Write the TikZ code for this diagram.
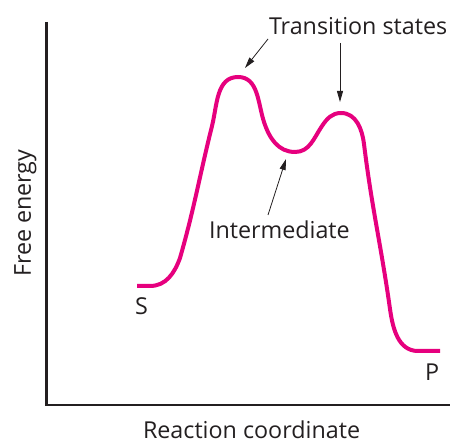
\documentclass[tikz,border=0pt]{standalone}
\usepackage{fontspec}
\setmainfont{Open Sans}
\usetikzlibrary{arrows.meta}
\definecolor{curvepink}{RGB}{230,0,126}
\definecolor{ink}{RGB}{35,31,32}
\tikzset{
  lbl/.style={inner sep=0pt, outer sep=0pt, anchor=base west, text=ink, font=\fontsize{23.3}{27}\selectfont},
  axis/.style={draw=ink, line width=2.4pt},
  energy/.style={draw=curvepink, line width=4pt},
  pointer/.style={draw=ink, line width=0.8pt, -{Triangle[length=11pt,width=6pt]}}
}
\begin{document}
\begin{tikzpicture}[x=1pt,y=1pt]
\useasboundingbox (0,0) rectangle (450,444);
% axes
\coordinate (ytop) at (46.5,422);
\coordinate (origin) at (46.5,39);
\coordinate (xend) at (450,39);
\draw[axis] (ytop) -- (origin) -- (xend);
% curve
\draw[energy] (137,158) -- (150,158)
  to[out=0,in=-110] (180,186)
  to[out=74,in=-104] (212,318)
  to[out=76,in=180] (238,367)
  to[out=0,in=108] (264,322)
  to[out=-72,in=180] (295,292)
  to[out=0,in=-124] (322,318)
  to[out=56,in=180] (341,331)
  to[out=0,in=97] (364,300)
  to[out=-83,in=98] (390,135)
  to[out=-82,in=180] (418,93)
  -- (440,93);
% labels
\node[lbl] (ts) at (269,409) {Transition states};
\node[lbl] (int) at (209,205) {Intermediate};
\node[lbl] (s) at (135,129) {S};
\node[lbl] (p) at (425,63) {P};
\node[lbl, rotate=90] (fe) at (31,167) {Free energy};
\node[lbl] (rc) at (143,5) {Reaction coordinate};
% pointers
\coordinate (ts1from) at (268,405);
\coordinate (ts1) at (245,376);
\coordinate (ts2from) at (340,401);
\coordinate (ts2) at (340,342);
\coordinate (intfrom) at (268,229);
\coordinate (inttip) at (286,285);
\draw[pointer] (ts1from) -- (ts1);
\draw[pointer] (ts2from) -- (ts2);
\draw[pointer] (intfrom) -- (inttip);
\end{tikzpicture}
\end{document}
